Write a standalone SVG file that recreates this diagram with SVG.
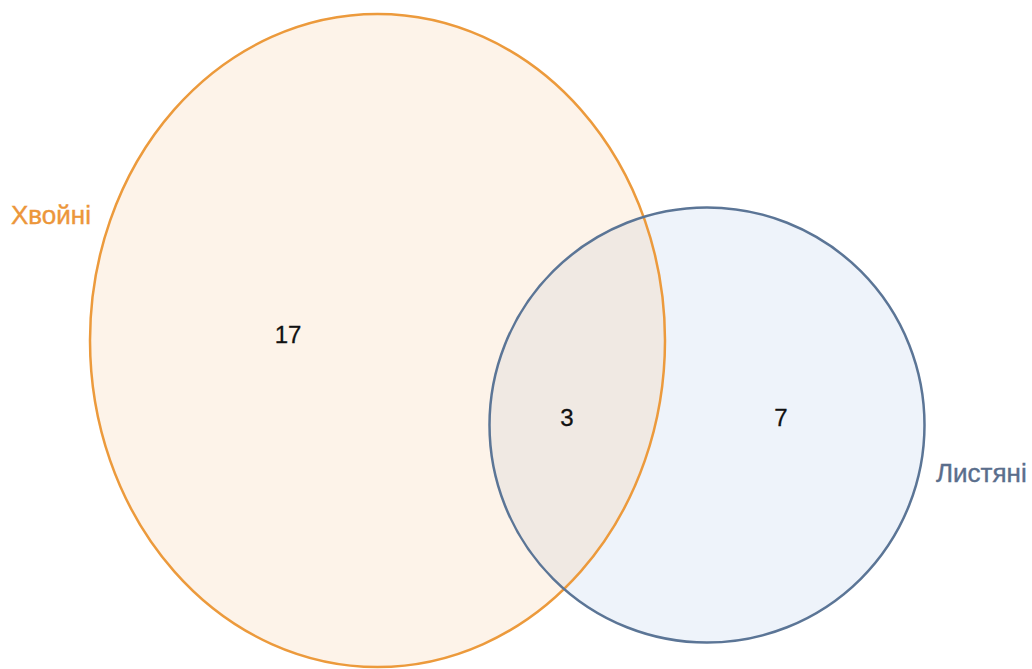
<svg xmlns="http://www.w3.org/2000/svg" width="1032" height="669" viewBox="0 0 1032 669">
<style>
.lbl{font-family:"Liberation Sans",Arial,sans-serif;font-size:26px}
.num{font-family:"Liberation Sans",Arial,sans-serif;font-size:24px;fill:#111;text-anchor:middle}
</style>
<defs>
<clipPath id="clipA"><ellipse cx="377.5" cy="340.5" rx="287.5" ry="326.5"/></clipPath>
</defs>
<rect width="1032" height="669" fill="#ffffff"/>
<g id="set-conifers">
<ellipse cx="377.5" cy="340.5" rx="287.5" ry="326.5" fill="#FDF3E9"/>
</g>
<g id="set-deciduous">
<circle cx="707" cy="425" r="217.5" fill="#EEF3FA"/>
</g>
<g id="intersection">
<circle cx="707" cy="425" r="217.5" fill="#F0E9E3" clip-path="url(#clipA)"/>
</g>
<g id="outlines">
<ellipse cx="377.5" cy="340.5" rx="287.5" ry="326.5" fill="none" stroke="#EC9A3C" stroke-width="2.5"/>
<circle cx="707" cy="425" r="217.5" fill="none" stroke="#5B7596" stroke-width="2.5"/>
</g>
<g id="labels">
<text class="lbl" x="11" y="224" fill="#EC963A" stroke="#EC963A" stroke-width="0.4">Хвойні</text>
<text class="lbl" x="936" y="482" fill="#5A6E8C" stroke="#5A6E8C" stroke-width="0.4">Листяні</text>
<text class="num" x="288" y="343" stroke="#111" stroke-width="0.3">17</text>
<text class="num" x="567" y="426" stroke="#111" stroke-width="0.3">3</text>
<text class="num" x="781" y="426" stroke="#111" stroke-width="0.3">7</text>
</g>
</svg>
